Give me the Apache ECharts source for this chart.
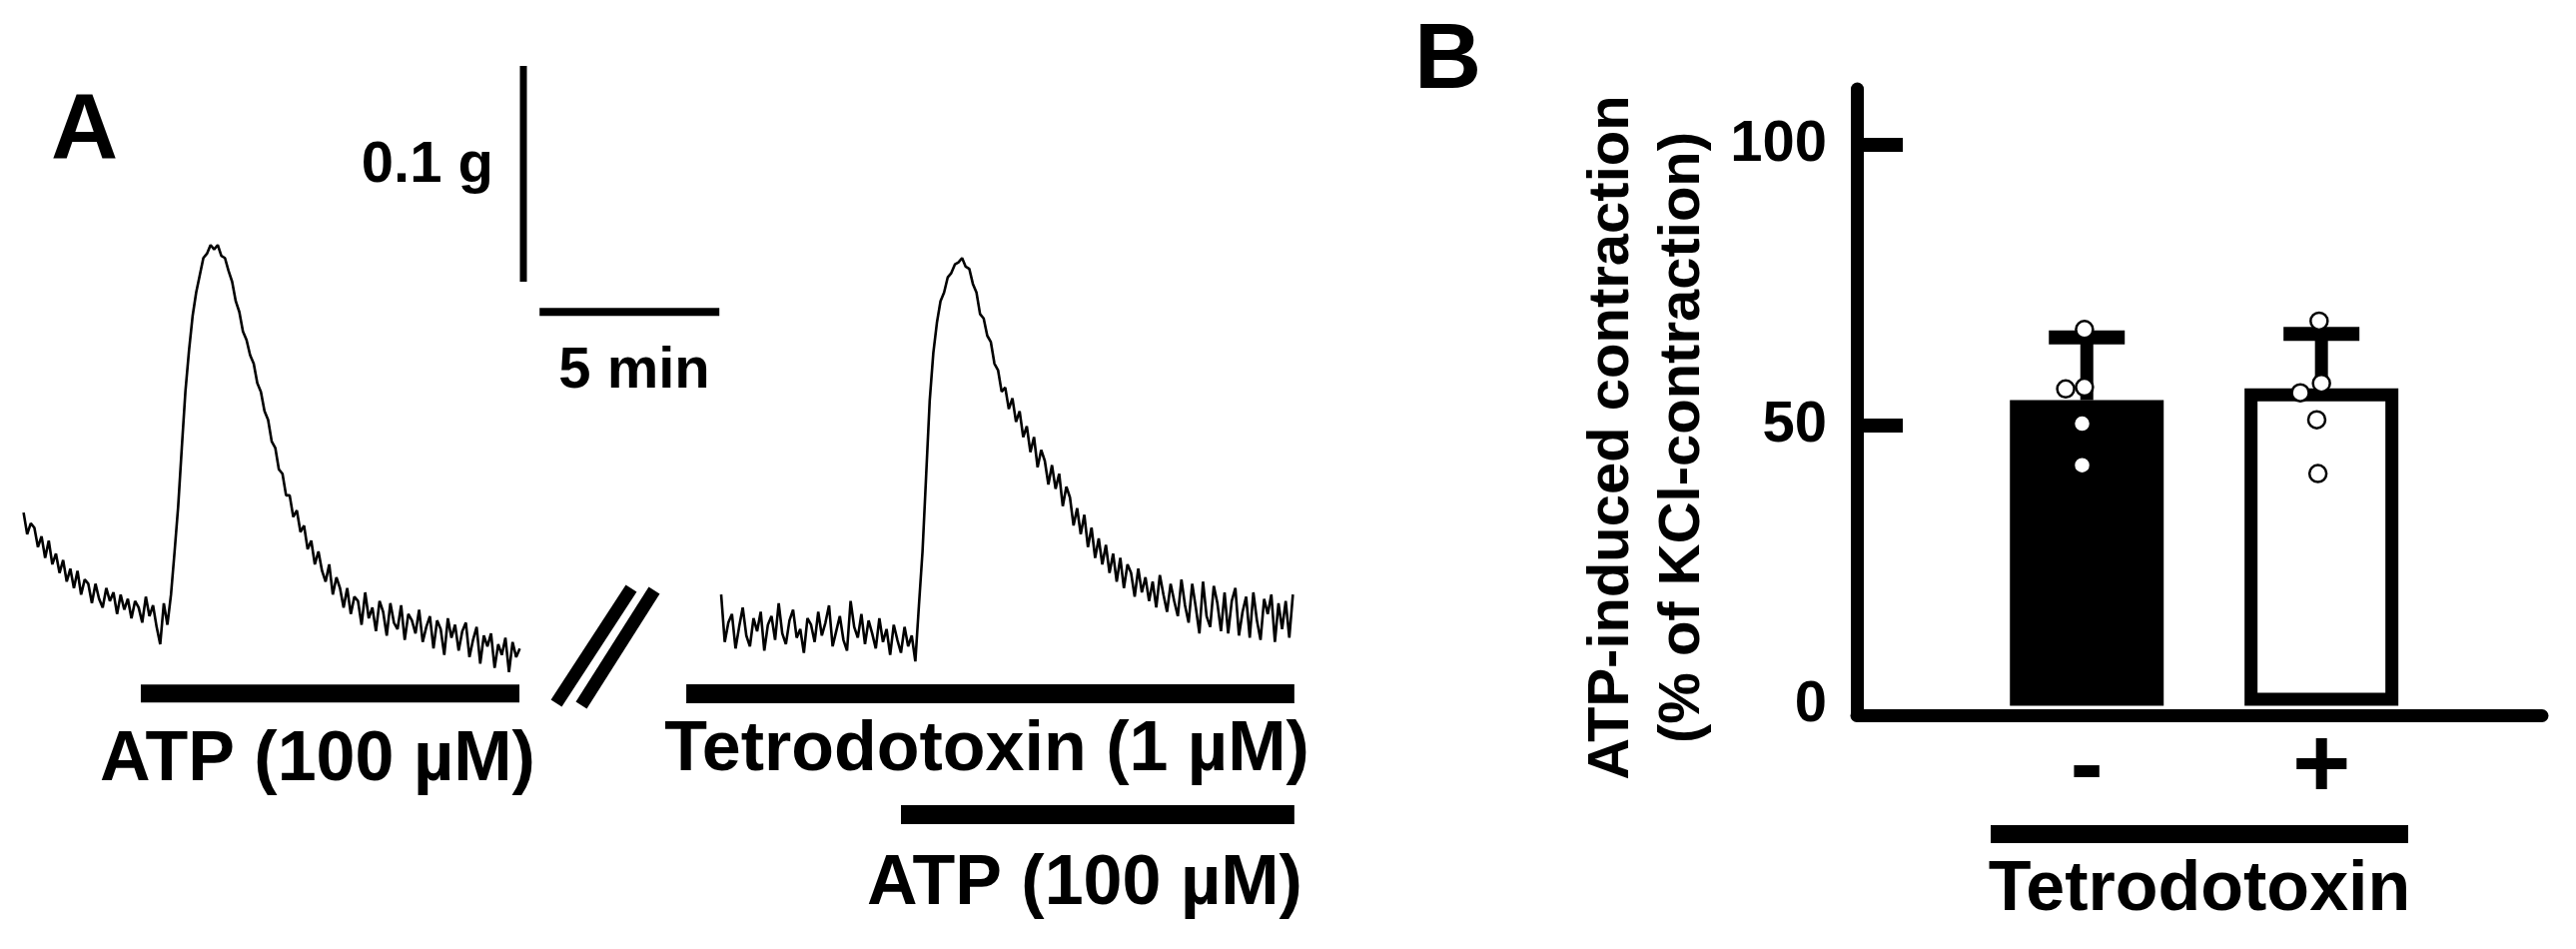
<!DOCTYPE html>
<html>
<head>
<meta charset="utf-8">
<title>ATP-induced contraction</title>
<script src="https://cdn.jsdelivr.net/npm/echarts@6.0.0/dist/echarts.min.js"></script>
<style>
  html, body { margin: 0; padding: 0; background: #fff; }
  #chart { width: 2579px; height: 950px; }
</style>
</head>
<body>
<div id="chart"></div>
<script>
  // ---- panel A: tension recordings (mg), one sample every 0.1 min ----
  const sampleStep = 0.1
  const leftStart = 0.1
  const leftTrace = [
    68, 58, 63, 61, 52, 57, 47, 55, 44, 49,
    40, 46, 36, 42, 33, 41, 30, 37, 35, 26,
    35, 28, 24, 33, 27, 31, 21, 30, 23, 28,
    19, 27, 24, 17, 29, 20, 25, 15, 7, 26,
    16, 30, 50, 71, 98, 124, 143, 159, 170, 178,
    186, 188, 192, 190, 192, 187, 186, 180, 175, 166,
    161, 152, 148, 141, 137, 128, 124, 115, 111, 101,
    98, 88, 86, 76, 76, 66, 69, 59, 62, 51,
    55, 44, 50, 41, 36, 44, 30, 38, 33, 24,
    33, 21, 29, 27, 16, 31, 19, 24, 13, 27,
    22, 11, 26, 17, 14, 25, 9, 21, 18, 12,
    23, 8, 15, 20, 5, 18, 14, 2, 19, 10,
    16, 4, 13, 17, 1, 9, 15, -2, 11, 6,
    12, -4, 7, 2, 10, -6, 8, 1, 5
  ]
  const rightStart = 19.5
  const rightTrace = [
    30, 8, 17, 21, 5, 15, 24, 11, 6, 19,
    13, 22, 4, 16, 20, 9, 26, 12, 7, 18,
    23, 10, 14, 3, 19, 16, 8, 22, 11, 17,
    25, 6, 13, 20, 9, 4, 27, 15, 10, 21,
    7, 18, 12, 5, 19, 8, 14, 2, 16, 9,
    3, 15, 6, 11, -1, 25, 50, 85, 120, 142,
    156, 166, 170, 177, 179, 183, 184, 186, 182, 181,
    174, 170, 160, 158, 150, 147, 137, 134, 124, 126,
    116, 121, 110, 115, 103, 108, 96, 103, 89, 97,
    92, 81, 90, 79, 86, 71, 80, 75, 62, 70,
    58, 67, 52, 61, 47, 56, 44, 53, 40, 49,
    36, 47, 33, 44, 40, 29, 42, 31, 38, 27,
    36, 24, 39, 30, 22, 35, 27, 20, 37, 25,
    17, 35, 24, 12, 36, 20, 15, 34, 26, 13,
    31, 12, 27, 33, 11, 22, 29, 10, 31, 18,
    9, 28, 21, 30, 8, 26, 14, 27, 10, 30
  ]
  // drug application (min)
  const atpPeriodA = [3.36, 13.89]
  const ttxPeriod = [18.53, 35.44]
  const atpPeriodB = [24.5, 35.44]
  const scaleMinutes = 5
  const scaleForce = 100 // mg = 0.1 g

  // ---- panel B: % of KCl contraction ----
  const groups = ['-', '+']
  const meanValues = [54.5, 56.6]
  const sdValues = [11.2, 9.7]
  const pointsControl = [67.1, 56.5, 56.8, 50.3, 42.9]
  const pointsTtx = [68.6, 57.5, 55.8, 51.0, 41.4]
  const jitterControl = [-0.01, -0.09, -0.01, -0.02, -0.02]
  const jitterTtx = [-0.01, 0, -0.09, -0.02, -0.015]
  const yTicks = [0, 50, 100]

  const fontFamily = '"Liberation Sans", Arial, sans-serif'
  const black = '#000'

  function traceData(start, values) {
    return values.map((v, i) => [start + i * sampleStep, v])
  }

  function text(str, x, y, size, align, rotation) {
    return {
      type: 'text',
      x: x,
      y: y,
      rotation: rotation || 0,
      style: {
        text: str,
        fill: black,
        font: 'bold ' + size + 'px ' + fontFamily,
        textAlign: align,
        textVerticalAlign: 'middle',
        align: align,
        verticalAlign: 'middle'
      }
    }
  }

  function hLine(period, level, width) {
    return {
      type: 'line',
      xAxisIndex: 0,
      yAxisIndex: 0,
      data: [[period[0], level], [period[1], level]],
      symbol: 'none',
      silent: true,
      clip: false,
      lineStyle: { color: black, width: width, cap: 'butt' }
    }
  }

  const chart = echarts.init(document.getElementById('chart'), null, { renderer: 'canvas' })

  const option = {
    animation: false,
    backgroundColor: '#fff',
    grid: [
      { left: 20, top: 12, width: 1296, height: 864, outerBoundsMode: 'none' },
      { left: 1859, top: 89, width: 686, height: 627, outerBoundsMode: 'none' }
    ],
    xAxis: [
      { gridIndex: 0, type: 'value', min: 0, max: 36, show: false },
      {
        gridIndex: 1,
        type: 'value',
        min: 0.02,
        max: 2.94,
        axisLine: { show: true, onZero: false, lineStyle: { color: black, width: 13 } },
        axisTick: { show: false },
        splitLine: { show: false },
        axisLabel: {
          customValues: [1, 2],
          formatter: function(v) {
            return groups[Math.round(v) - 1] || ''
          },
          color: black,
          fontFamily: fontFamily,
          fontWeight: 'bold',
          fontSize: 100,
          margin: 54,
          verticalAlign: 'middle'
        }
      }
    ],
    yAxis: [
      { gridIndex: 0, type: 'value', min: -100, max: 300, show: false },
      {
        gridIndex: 1,
        type: 'value',
        min: -1.7,
        max: 110,
        axisLine: { show: true, onZero: false, lineStyle: { color: black, width: 13 } },
        axisTick: {
          show: true,
          inside: true,
          length: 46,
          customValues: [50, 100],
          lineStyle: { color: black, width: 14 }
        },
        splitLine: { show: false },
        axisLabel: {
          customValues: yTicks,
          color: black,
          fontFamily: fontFamily,
          fontWeight: 'bold',
          fontSize: 58,
          margin: 30,
          padding: [0, 0, 14, 0]
        }
      }
    ],
    series: [
      {
        type: 'line',
        xAxisIndex: 0,
        yAxisIndex: 0,
        data: traceData(leftStart, leftTrace),
        symbol: 'none',
        silent: true,
        clip: false,
        lineStyle: { color: black, width: 2.6 }
      },
      {
        type: 'line',
        xAxisIndex: 0,
        yAxisIndex: 0,
        data: traceData(rightStart, rightTrace),
        symbol: 'none',
        silent: true,
        clip: false,
        lineStyle: { color: black, width: 2.6 }
      },
      // scale bars
      {
        type: 'line',
        xAxisIndex: 0,
        yAxisIndex: 0,
        data: [[14.0, 175], [14.0, 175 + scaleForce]],
        symbol: 'none',
        silent: true,
        lineStyle: { color: black, width: 7, cap: 'butt' }
      },
      hLine([14.45, 14.45 + scaleMinutes], 161, 8),
      // drug application bars
      hLine(atpPeriodA, -15.8, 18),
      hLine(ttxPeriod, -16, 19),
      hLine(atpPeriodB, -72, 19),
      // panel B
      {
        type: 'bar',
        xAxisIndex: 1,
        yAxisIndex: 1,
        barWidth: 154,
        z: 2,
        data: meanValues.map(function(m, i) {
          return {
            value: [i + 1, m],
            itemStyle: {
              color: i === 0 ? black : '#fff',
              borderColor: black,
              borderWidth: 13
            }
          }
        })
      },
      {
        type: 'custom',
        xAxisIndex: 1,
        yAxisIndex: 1,
        z: 3,
        silent: true,
        data: meanValues.map(function(m, i) {
          return [i + 1, m, sdValues[i]]
        }),
        encode: { x: 0, y: 1 },
        renderItem: function(params, api) {
          const x = api.value(0)
          const m = api.value(1)
          const s = api.value(2)
          const base = api.coord([x, m])
          const top = api.coord([x, m + s])
          return {
            type: 'group',
            children: [
              {
                type: 'line',
                shape: { x1: base[0], y1: base[1], x2: top[0], y2: top[1] },
                style: { stroke: black, lineWidth: 13 }
              },
              {
                type: 'line',
                shape: { x1: top[0] - 38, y1: top[1], x2: top[0] + 38, y2: top[1] },
                style: { stroke: black, lineWidth: 14 }
              }
            ]
          }
        }
      },
      {
        type: 'scatter',
        xAxisIndex: 1,
        yAxisIndex: 1,
        z: 4,
        symbolSize: 17,
        itemStyle: { color: '#fff', borderColor: black, borderWidth: 2.5, opacity: 1 },
        data: pointsControl.map(function(v, i) {
          return [1 + jitterControl[i], v]
        }).concat(pointsTtx.map(function(v, i) {
          return [2 + jitterTtx[i], v]
        }))
      }
    ],
    graphic: [
      text('A', 51, 132, 93, 'left'),
      text('B', 1416, 62, 93, 'left'),
      text('0.1 g', 494, 166, 58, 'right'),
      text('5 min', 635, 372, 58, 'center'),
      text('ATP (100 µM)', 318, 762, 70, 'center'),
      text('Tetrodotoxin (1 µM)', 988, 752, 70, 'center'),
      text('ATP (100 µM)', 1086, 886, 70, 'center'),
      text('Tetrodotoxin', 2202, 892, 70, 'center'),
      text('ATP-induced contraction', 1614, 438, 58, 'center', Math.PI / 2),
      text('(% of KCl-contraction)', 1685, 438, 58, 'center', Math.PI / 2),
      // recording break
      { type: 'line', shape: { x1: 557, y1: 704, x2: 632, y2: 589 }, style: { stroke: black, lineWidth: 13 } },
      { type: 'line', shape: { x1: 582, y1: 706, x2: 655, y2: 591 }, style: { stroke: black, lineWidth: 13 } },
      // bar under the group signs
      { type: 'rect', shape: { x: 1993, y: 826, width: 418, height: 18 }, style: { fill: black } }
    ]
  }

  chart.setOption(option)
</script>
</body>
</html>
